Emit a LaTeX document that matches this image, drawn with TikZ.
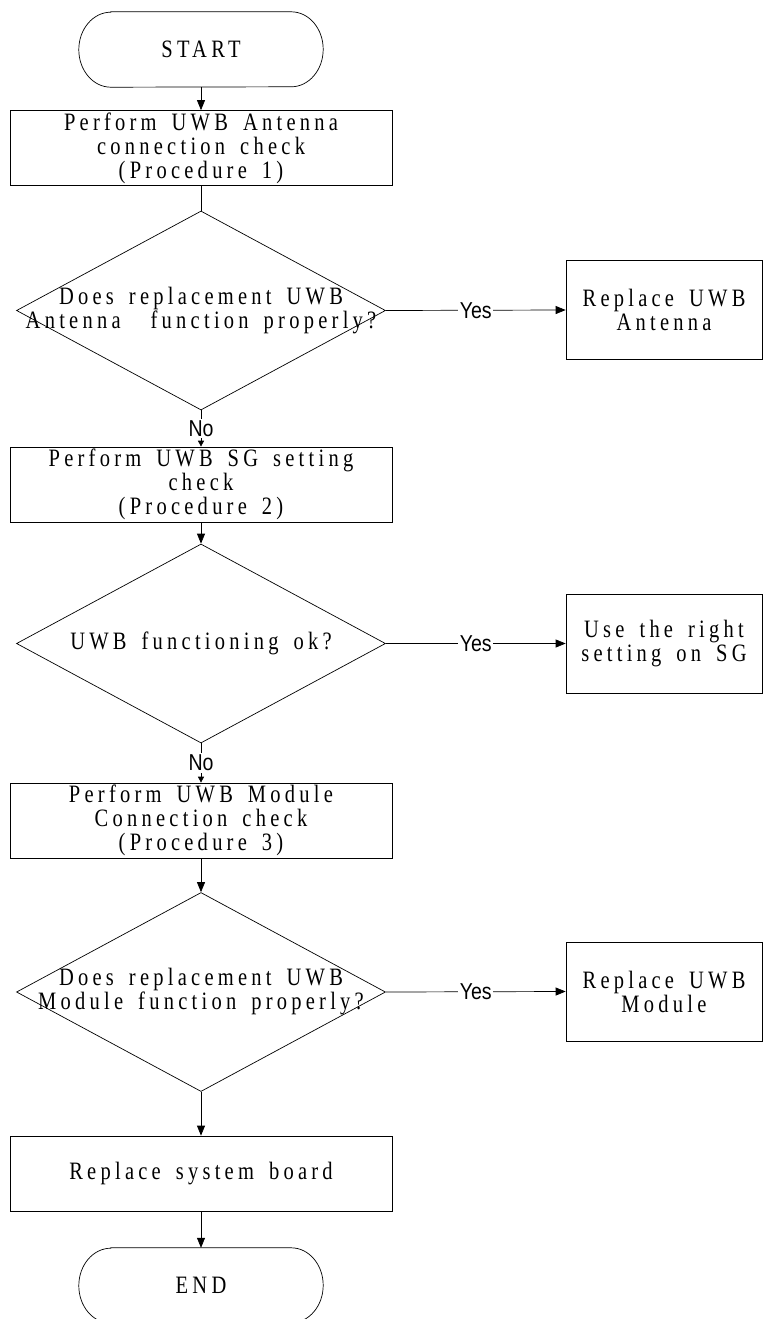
\documentclass[tikz,border=0pt]{standalone}
\usepackage{fontspec}
\setmainfont{Liberation Serif}[LetterSpace=17,FakeStretch=0.82,WordSpace=1.6]
\newfontfamily\labfont{Liberation Sans}[FakeStretch=0.85]
\usetikzlibrary{shapes.geometric,arrows.meta}
\tikzset{
  every node/.style={font=\fontsize{25}{24}\selectfont},
  procbox/.style={draw, rectangle, minimum width=382pt, minimum height=75pt, align=center, inner sep=0pt, line width=0.7pt},
  sidebox/.style={draw, rectangle, minimum width=196pt, minimum height=99pt, align=center, inner sep=0pt, line width=0.7pt},
  termbox/.style={rectangle, minimum width=244pt, minimum height=75pt, inner sep=0pt},
  decbox/.style={draw, shape=diamond, minimum width=369pt, minimum height=199pt, inner sep=0pt, line width=0.7pt},
  dectext/.style={align=center, inner sep=0pt},
  conn/.style={line width=0.7pt},
  arr/.style={line width=0.7pt, -{Triangle[length=10pt,width=8pt]}},
  smallarr/.style={line width=0.7pt, -{Triangle[length=6pt,width=6pt]}},
  lab/.style={fill=white, inner sep=1.5pt, font=\labfont\fontsize{23}{22}\selectfont}
}
\begin{document}
\begin{tikzpicture}[x=1pt,y=1pt]
\useasboundingbox (0,0) rectangle (764,-1319);
\fill[white] (0,0) rectangle (764,-1319);

% START
\node[termbox] (st) at (201,-49.5) {START};
\draw[conn] ([xshift=32pt]st.north west) -- ([xshift=-32pt]st.north east)
  arc[start angle=90, end angle=-90, x radius=32pt, y radius=37.5pt]
  -- ([xshift=32pt]st.south west)
  arc[start angle=270, end angle=90, x radius=32pt, y radius=37.5pt] -- cycle;

\node[procbox] (b1) at (201,-148) {Perform UWB Antenna\\connection check\\(Procedure 1)};
\node[decbox] (d1) at (201,-310.5) {};
\node[dectext] (t1) at (d1.center) {Does replacement UWB\\Antenna~ function properly?};
\node[sidebox] (r1) at (664,-310) {Replace UWB\\Antenna};

\node[procbox] (b2) at (201,-484.5) {Perform UWB SG setting\\check\\(Procedure 2)};
\node[decbox] (d2) at (201,-643.5) {};
\node[dectext] (t2) at (d2.center) {UWB functioning ok?};
\node[sidebox] (r2) at (664,-643.5) {Use the right\\setting on SG};

\node[procbox] (b3) at (201,-820.5) {Perform UWB Module\\Connection check\\(Procedure 3)};
\node[decbox] (d3) at (201,-992) {};
\node[dectext] (t3) at (d3.center) {Does replacement UWB\\Module function properly?};
\node[sidebox] (r3) at (664,-991.5) {Replace UWB\\Module};

\node[procbox] (b4) at (201,-1173.5) {Replace system board};

% END
\node[termbox] (en) at (201,-1285.5) {END};
\draw[conn] ([xshift=32pt]en.north west) -- ([xshift=-32pt]en.north east)
  arc[start angle=90, end angle=-90, x radius=32pt, y radius=37.5pt]
  -- ([xshift=32pt]en.south west)
  arc[start angle=270, end angle=90, x radius=32pt, y radius=37.5pt] -- cycle;

% connectors
\draw[arr] (st.south) -- (b1.north);
\draw[conn] (b1.south) -- (d1.north);
\draw[smallarr] (d1.south) -- node[lab] (n1) {No} (b2.north);
\draw[arr] (b2.south) -- (d2.north);
\draw[smallarr] (d2.south) -- node[lab] (n2) {No} (b3.north);
\draw[arr] (b3.south) -- (d3.north);
\draw[arr] (d3.south) -- (b4.north);
\draw[arr] (b4.south) -- (en.north);

\draw[arr] (d1.east) -- node[lab] (y1) {Yes} (r1.west);
\draw[arr] (d2.east) -- node[lab] (y2) {Yes} (r2.west);
\draw[arr] (d3.east) -- node[lab] (y3) {Yes} (r3.west);
\end{tikzpicture}
\end{document}
